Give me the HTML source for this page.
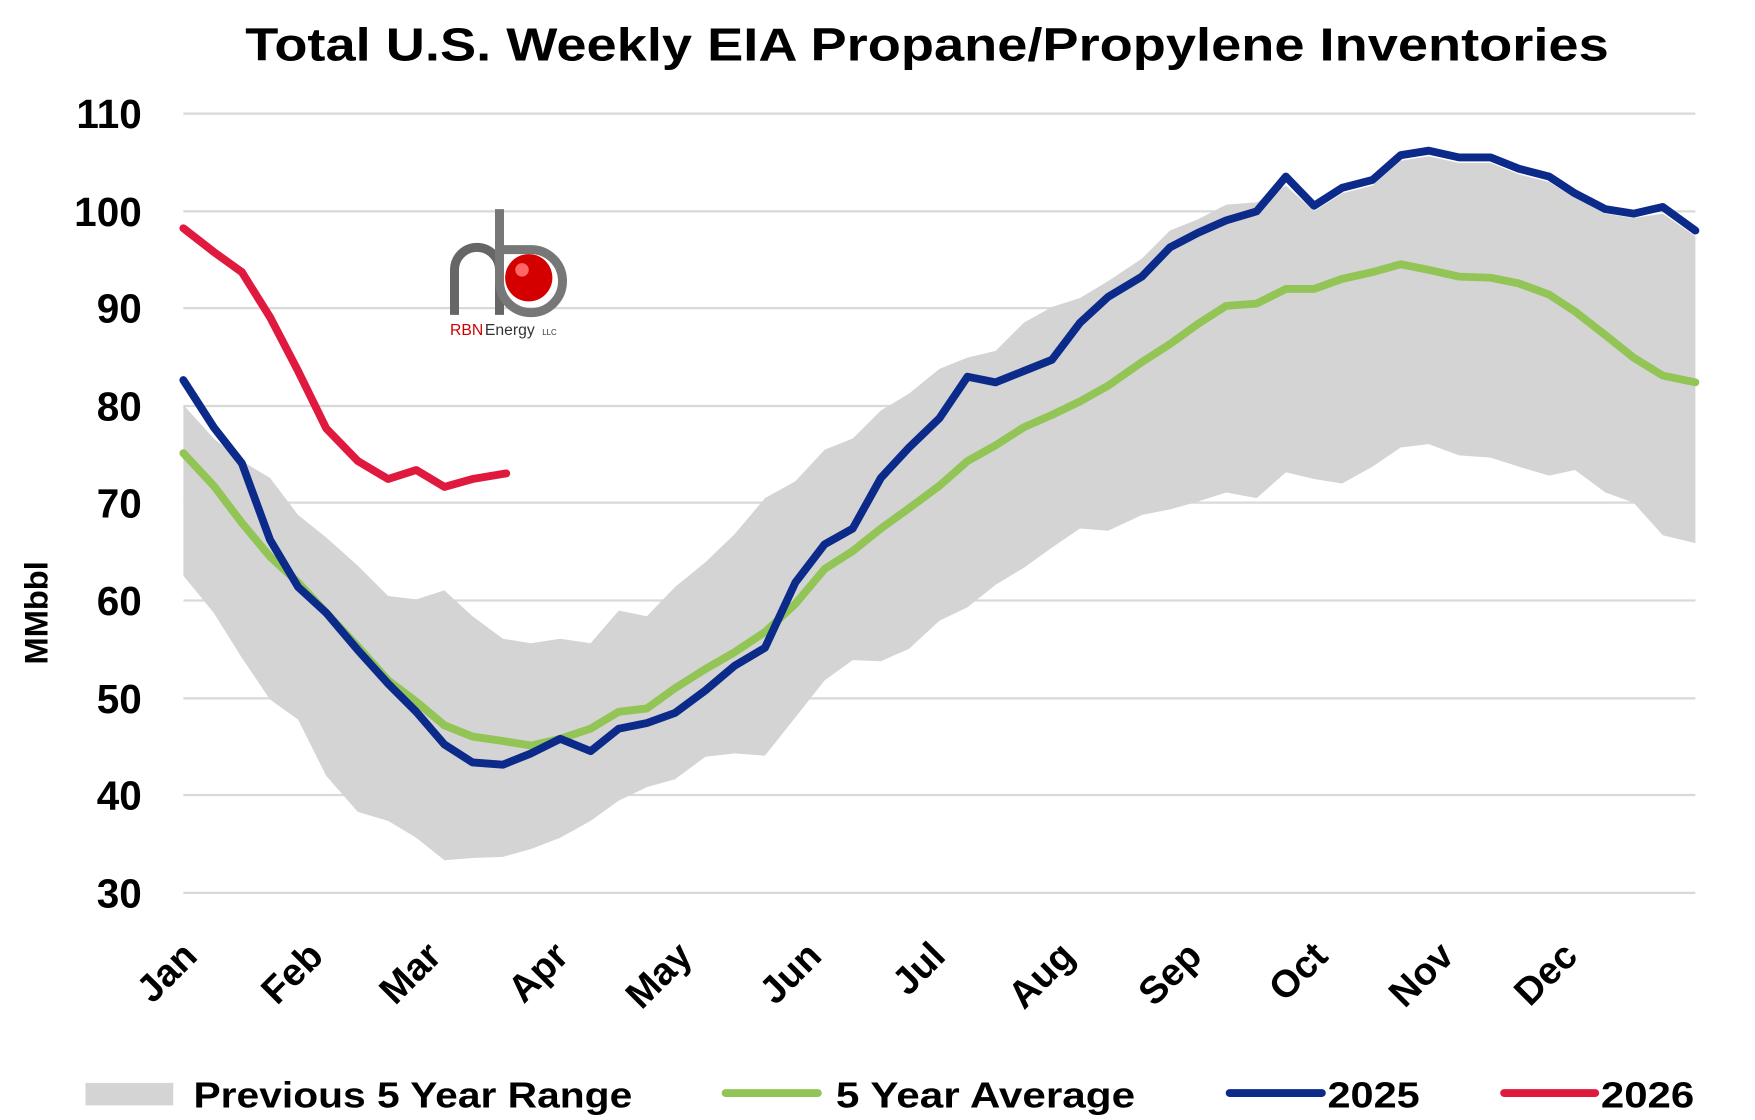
<!DOCTYPE html>
<html><head><meta charset="utf-8"><style>html,body{margin:0;padding:0;background:#fff}svg{display:block}</style></head><body>
<svg width="1755" height="1120" viewBox="0 0 1560 996" preserveAspectRatio="none" xmlns="http://www.w3.org/2000/svg" font-family="Liberation Sans, Arial, sans-serif" font-weight="bold">
<rect width="1560" height="996" fill="#fff"/>
<text x="824" y="54" font-size="41" text-anchor="middle" textLength="1212" lengthAdjust="spacingAndGlyphs">Total U.S. Weekly EIA Propane/Propylene Inventories</text>
<g stroke="#d9d9d9" stroke-width="2">
<line x1="163" x2="1507" y1="101" y2="101"/><line x1="163" x2="1507" y1="188" y2="188"/><line x1="163" x2="1507" y1="274" y2="274"/><line x1="163" x2="1507" y1="361" y2="361"/><line x1="163" x2="1507" y1="447" y2="447"/><line x1="163" x2="1507" y1="534" y2="534"/><line x1="163" x2="1507" y1="621" y2="621"/><line x1="163" x2="1507" y1="707" y2="707"/><line x1="163" x2="1507" y1="794" y2="794"/>
</g>
<g font-size="36" text-anchor="end">
<text x="126" y="114">110</text><text x="126" y="201">100</text><text x="126" y="287">90</text><text x="126" y="374">80</text><text x="126" y="460">70</text><text x="126" y="547">60</text><text x="126" y="634">50</text><text x="126" y="720">40</text><text x="126" y="807">30</text>
</g>
<text transform="translate(42,545) rotate(-90)" font-size="29" text-anchor="middle">MMbbl</text>
<polygon fill="#d4d4d4" points="163,360 190,390 215,410 240,425 265,458 290,478 318,503 345,530 370,533 395,525 420,548 447,568 472,572 498,568 525,572 550,543 575,548 600,522 627,500 653,475 680,443 707,428 733,400 758,390 783,365 808,350 835,328 860,318 885,312 910,287 935,273 960,265 985,250 1015,230 1040,205 1065,195 1090,182 1117,180 1143,165 1168,188 1193,172 1220,165 1245,143 1270,139 1297,145 1325,145 1350,155 1377,162 1400,176 1427,190 1452,194 1478,190 1507,210 1507,483 1478,476 1452,447 1427,438 1400,418 1377,423 1350,415 1325,407 1297,405 1270,395 1245,398 1220,415 1193,430 1168,426 1143,420 1117,443 1090,438 1065,446 1040,453 1015,458 985,472 960,470 935,487 910,505 885,520 860,540 835,552 808,577 783,588 758,587 733,605 707,638 680,672 653,670 627,673 600,693 575,700 550,712 525,730 498,745 472,755 447,762 420,763 395,765 370,745 345,730 318,722 290,690 265,640 240,622 215,585 190,545 163,512"/>
<g fill="none" stroke-width="7" stroke-linejoin="round" stroke-linecap="round">
<polyline stroke="#92c556" points="163,403 190,432 215,465 240,495 265,518 290,545 318,575 345,605 370,624 395,645 420,655 447,659 472,663 498,657 525,648 550,633 575,630 600,612 627,595 653,580 680,562 707,537 733,506 758,490 783,470 808,452 835,432 860,410 885,396 910,380 935,369 960,357 985,343 1015,322 1040,306 1065,288 1090,272 1117,270 1143,257 1168,257 1193,248 1220,242 1245,235 1270,240 1297,246 1325,247 1350,252 1377,262 1400,277 1427,298 1452,318 1478,334 1507,340"/>
<polyline stroke="#0b2a8a" points="163,338 190,380 215,412 240,480 265,522 290,545 318,578 345,608 370,633 395,662 420,678 447,680 472,670 498,657 525,668 550,648 575,643 600,634 627,614 653,592 680,576 707,518 733,484 758,470 783,425 808,398 835,372 860,335 885,340 910,330 935,320 960,287 985,264 1015,246 1040,220 1065,207 1090,196 1117,188 1143,157 1168,183 1193,167 1220,160 1245,138 1270,134 1297,140 1325,140 1350,150 1377,157 1400,172 1427,186 1452,190 1478,184 1507,205"/>
<polyline stroke="#e0193f" points="163,203 190,224 215,242 240,282 265,330 290,381 318,410 345,426 370,418 395,433 420,426 450,421"/>
</g>
<g font-size="34">
<text transform="translate(177,852) rotate(-45)" text-anchor="end">Jan</text>
<text transform="translate(289,852) rotate(-45)" text-anchor="end">Feb</text>
<text transform="translate(394,852) rotate(-45)" text-anchor="end">Mar</text>
<text transform="translate(507,852) rotate(-45)" text-anchor="end">Apr</text>
<text transform="translate(617,852) rotate(-45)" text-anchor="end">May</text>
<text transform="translate(732,852) rotate(-45)" text-anchor="end">Jun</text>
<text transform="translate(842,852) rotate(-45)" text-anchor="end">Jul</text>
<text transform="translate(957,852) rotate(-45)" text-anchor="end">Aug</text>
<text transform="translate(1070,852) rotate(-45)" text-anchor="end">Sep</text>
<text transform="translate(1182,852) rotate(-45)" text-anchor="end">Oct</text>
<text transform="translate(1294,852) rotate(-45)" text-anchor="end">Nov</text>
<text transform="translate(1404,852) rotate(-45)" text-anchor="end">Dec</text>
</g>
<g>
<path d="M404,280 V240 a20,20 0 0 1 40,0 V280" fill="none" stroke="#666" stroke-width="8"/>
<path d="M444,186 V250 a28,28 0 1 0 28,-28 H444" fill="none" stroke="#777" stroke-width="8"/>
<circle cx="470" cy="247" r="21" fill="#d40000"/>
<circle cx="464" cy="240" r="6" fill="#ff6666"/>
<text x="400" y="298" font-size="14" font-weight="normal" fill="#c00">RBN</text>
<text x="431" y="298" font-size="14" font-weight="normal" fill="#333">Energy</text>
<text x="482" y="298" font-size="7" font-weight="normal" fill="#333">LLC</text>
</g>
<g font-size="32">
<rect x="76" y="963" width="78" height="20" fill="#d4d4d4"/>
<text x="172" y="985" textLength="390" lengthAdjust="spacingAndGlyphs">Previous 5 Year Range</text>
<line x1="645" x2="727" y1="972" y2="972" stroke="#92c556" stroke-width="7" stroke-linecap="round"/>
<text x="743" y="985" textLength="266" lengthAdjust="spacingAndGlyphs">5 Year Average</text>
<line x1="1093" x2="1175" y1="972" y2="972" stroke="#0b2a8a" stroke-width="7" stroke-linecap="round"/>
<text x="1180" y="985" textLength="82" lengthAdjust="spacingAndGlyphs">2025</text>
<line x1="1337" x2="1418" y1="972" y2="972" stroke="#e0193f" stroke-width="7" stroke-linecap="round"/>
<text x="1423" y="985" textLength="83" lengthAdjust="spacingAndGlyphs">2026</text>
</g>
</svg>
</body></html>
